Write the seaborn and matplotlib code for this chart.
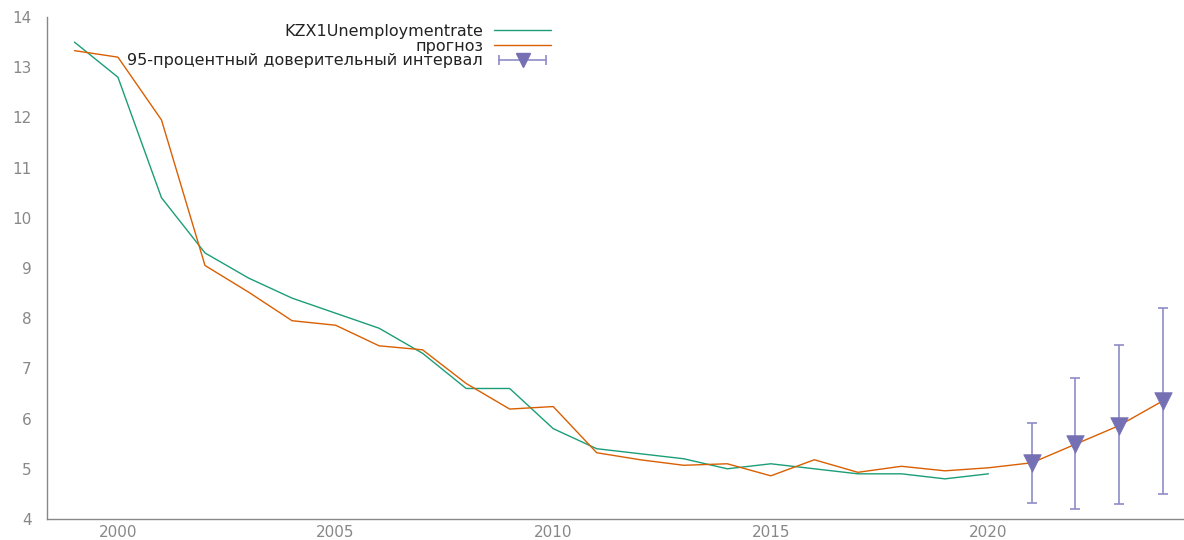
import numpy as np
import pandas as pd
import matplotlib
matplotlib.use("Agg")
import matplotlib.pyplot as plt
import seaborn as sns
from matplotlib.lines import Line2D
from matplotlib.legend_handler import HandlerLine2D

# Observed unemployment rate, Kazakhstan (%)
years_actual = [1999, 2000, 2001, 2002, 2003, 2004, 2005, 2006, 2007, 2008, 2009,
                2010, 2011, 2012, 2013, 2014, 2015, 2016, 2017, 2018, 2019, 2020]
unemployment = [13.5, 12.8, 10.4, 9.3, 8.8, 8.4, 8.1, 7.8, 7.3, 6.6, 6.6,
                5.8, 5.4, 5.3, 5.2, 5.0, 5.1, 5.0, 4.9, 4.9, 4.8, 4.9]

# Fitted values and out-of-sample forecast
years_forecast = list(range(1999, 2025))
forecast = [13.33, 13.2, 11.95, 9.05, 8.52, 7.95, 7.86, 7.45, 7.37, 6.7, 6.19,
            6.24, 5.32, 5.18, 5.07, 5.1, 4.86, 5.18, 4.93, 5.05, 4.96, 5.02,
            5.12, 5.49, 5.86, 6.35]

# 95% confidence interval for the forecast horizon
ci_years = [2021, 2022, 2023, 2024]
ci_center = [5.12, 5.49, 5.86, 6.35]
ci_lower = [4.32, 4.20, 4.30, 4.50]
ci_upper = [5.92, 6.81, 7.47, 8.21]

label_actual = "KZX1Unemploymentrate"
label_forecast = "прогноз"
label_ci = "95-процентный доверительный интервал"

green = "#1b9e77"
orange = "#d95f02"
purple = "#7570b3"
ci_color = "#8f8bc7"
grey = "#888888"

sns.set_theme(style="white")
plt.rcParams["font.family"] = ["DejaVu Sans"]

fig = plt.figure(figsize=(11.84, 5.40), dpi=100)
ax = fig.add_axes([47 / 1184, 21 / 540, (1183 - 47) / 1184, (523 - 21) / 540])

df_act = pd.DataFrame({"year": years_actual, "value": unemployment})
df_fc = pd.DataFrame({"year": years_forecast, "value": forecast})

sns.lineplot(data=df_act, x="year", y="value", ax=ax, color=green, lw=1.0, legend=False)
sns.lineplot(data=df_fc, x="year", y="value", ax=ax, color=orange, lw=1.0, legend=False)

c = np.array(ci_center)
yerr = np.vstack([c - np.array(ci_lower), np.array(ci_upper) - c])
ax.errorbar(ci_years, ci_center, yerr=yerr, fmt="none", ecolor=ci_color,
            elinewidth=1.2, capsize=3.7, capthick=1.2, zorder=3)
sns.scatterplot(x=ci_years, y=ci_center, ax=ax, marker="v", s=160, color=purple,
                edgecolor=purple, linewidth=0.5, zorder=4, legend=False)

ax.set_xlim(1998.37, 2024.47)
ax.set_ylim(4, 14)
ax.set_xticks([2000, 2005, 2010, 2015, 2020])
ax.set_yticks(range(4, 15))
ax.set_xlabel("")
ax.set_ylabel("")

for side in ("top", "right"):
    ax.spines[side].set_visible(False)
for side in ("left", "bottom"):
    ax.spines[side].set_color(grey)
    ax.spines[side].set_linewidth(1.0)
ax.tick_params(axis="both", direction="in", length=5, width=0.8, color=grey,
               labelcolor=grey, labelsize=11)
ax.tick_params(axis="y", pad=11)
ax.tick_params(axis="x", pad=4.5)

# Legend: labels on the left, samples on the right
h_act = Line2D([], [], color=green, lw=1.0)
h_fc = Line2D([], [], color=orange, lw=1.0)
h_bar = Line2D([], [], color=ci_color, lw=1.2, marker="|", markersize=7,
               markeredgewidth=1.2)
h_tri = Line2D([], [], color=purple, lw=0, marker="v", markersize=10)
leg = fig.legend([h_act, h_fc, (h_bar, h_tri)],
                 [label_actual, label_forecast, label_ci],
                 loc="upper right", bbox_to_anchor=(551 / 1184, 1 - 24 / 540),
                 bbox_transform=fig.transFigure, frameon=False, markerfirst=False,
                 fontsize=11.5, handlelength=3.55, handletextpad=0.7,
                 labelspacing=-0.02, borderpad=0, borderaxespad=0,
                 handler_map={h_bar: HandlerLine2D(numpoints=2),
                              h_tri: HandlerLine2D(numpoints=1)})
for t in leg.get_texts():
    t.set_color("#222222")

fig.savefig("out.png", dpi=100)
